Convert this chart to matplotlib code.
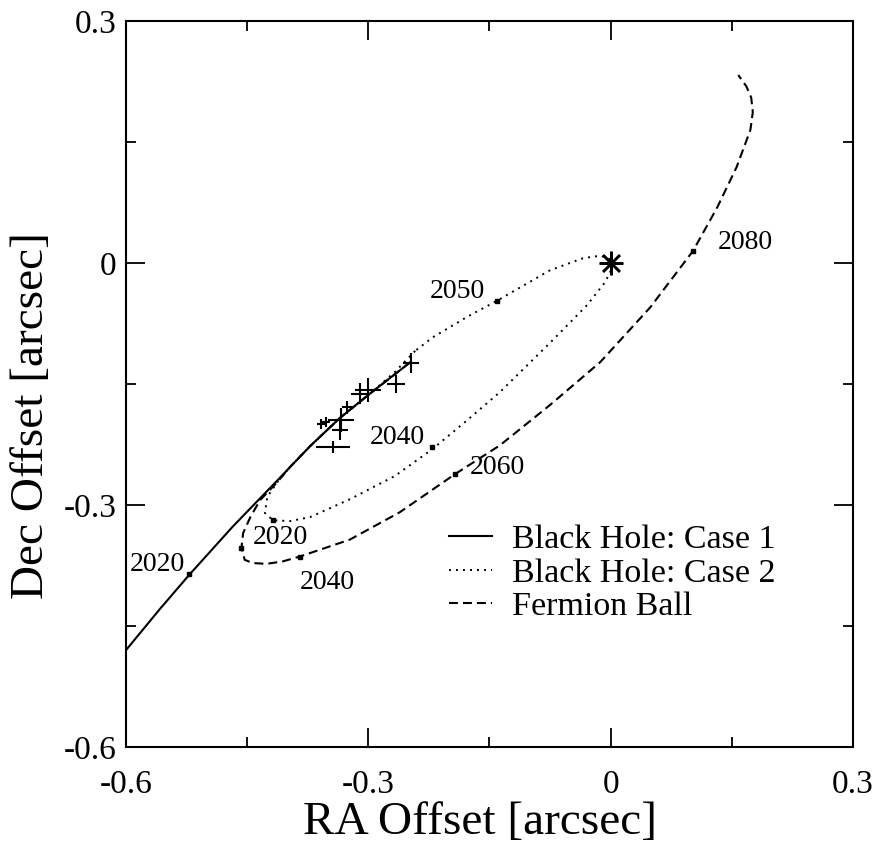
import matplotlib
matplotlib.use("Agg")
import matplotlib.pyplot as plt
from matplotlib.ticker import MultipleLocator, FuncFormatter

plt.rcParams["font.family"] = ["Liberation Serif", "DejaVu Serif"]
plt.rcParams["axes.unicode_minus"] = False

# Black Hole: Case 1 (solid)
case1_x = [-0.600, -0.558, -0.522, -0.468, -0.413, -0.372, -0.335, -0.298, -0.248]
case1_y = [-0.480, -0.429, -0.387, -0.327, -0.270, -0.227, -0.192, -0.162, -0.123]

# Black Hole: Case 2 (dotted, closed orbit)
case2_x = [-0.242, -0.267, -0.298, -0.335, -0.372, -0.397, -0.413, -0.425, -0.428, -0.418,
           -0.397, -0.372, -0.323, -0.267, -0.221, -0.180, -0.137, -0.075, -0.029, -0.007,
           0.002, -0.001, -0.013, -0.034, -0.075, -0.141, -0.178, -0.220, -0.242]
case2_y = [-0.109, -0.135, -0.162, -0.192, -0.227, -0.253, -0.272, -0.290, -0.310, -0.319,
           -0.320, -0.315, -0.293, -0.264, -0.231, -0.197, -0.160, -0.099, -0.052, -0.024,
           -0.006, 0.005, 0.009, 0.006, -0.009, -0.047, -0.067, -0.092, -0.109]

# Fermion Ball (dashed)
fermion_x = [-0.248, -0.298, -0.335, -0.372, -0.397, -0.413, -0.434, -0.446, -0.455, -0.457,
             -0.453, -0.443, -0.426, -0.406, -0.385, -0.323, -0.261, -0.193, -0.137, -0.075,
             -0.013, 0.049, 0.102, 0.132, 0.156, 0.173, 0.176, 0.174, 0.168, 0.158]
fermion_y = [-0.123, -0.162, -0.192, -0.227, -0.253, -0.272, -0.294, -0.315, -0.335, -0.353,
             -0.368, -0.372, -0.373, -0.370, -0.364, -0.343, -0.309, -0.262, -0.226, -0.176,
             -0.123, -0.055, 0.015, 0.069, 0.119, 0.165, 0.187, 0.205, 0.219, 0.233]

# observed positions with errors
obs_x = [-0.247, -0.266, -0.300, -0.310, -0.326, -0.334, -0.335, -0.344, -0.352, -0.359]
obs_y = [-0.124, -0.150, -0.157, -0.162, -0.179, -0.195, -0.207, -0.228, -0.197, -0.200]
obs_xerr = [0.010, 0.011, 0.016, 0.012, 0.006, 0.016, 0.010, 0.021, 0.005, 0.005]
obs_yerr = [0.012, 0.011, 0.015, 0.013, 0.008, 0.015, 0.012, 0.007, 0.006, 0.006]

# epoch markers and labels
epoch_x = [-0.522, -0.418, -0.221, -0.141, -0.457, -0.385, -0.193, 0.102]
epoch_y = [-0.386, -0.319, -0.228, -0.047, -0.353, -0.364, -0.262, 0.015]
label_text = ["2020", "2020", "2040", "2040", "2050", "2060", "2080"]
label_x = [-0.595, -0.443, -0.385, -0.298, -0.224, -0.174, 0.133]
label_y = [-0.374, -0.340, -0.396, -0.216, -0.035, -0.254, 0.025]

fig = plt.figure(figsize=(8.79, 8.57), dpi=100)
ax = fig.add_axes([0.1433, 0.1284, 0.8271, 0.8471])

ax.plot(case1_x, case1_y, color="black", lw=1.5, ls="-", label="Black Hole: Case 1")
ax.plot(case2_x, case2_y, color="black", lw=1.4, ls=(0, (1, 2.6)), label="Black Hole: Case 2")
ax.plot(fermion_x, fermion_y, color="black", lw=1.5, ls=(0, (4.3, 2.4)), label="Fermion Ball")
ax.errorbar(obs_x, obs_y, xerr=obs_xerr, yerr=obs_yerr, fmt="none", ecolor="black",
            elinewidth=1.5, capsize=0)
ax.plot(epoch_x, epoch_y, ls="none", marker="s", ms=3.5, color="black")
ax.plot([0], [0], ls="none", marker=(8, 2, 0), ms=17, mew=1.8, color="black")

for t, x, y in zip(label_text, label_x, label_y):
    ax.text(x, y, t, fontsize=20, ha="left", va="center")

ax.set_xlim(-0.6, 0.3)
ax.set_ylim(-0.6, 0.3)
ax.xaxis.set_major_locator(MultipleLocator(0.3))
ax.yaxis.set_major_locator(MultipleLocator(0.3))
ax.xaxis.set_minor_locator(MultipleLocator(0.15))
ax.yaxis.set_minor_locator(MultipleLocator(0.15))
fmt = FuncFormatter(lambda v, p: "0" if abs(v) < 1e-9 else f"{v:.1f}")
ax.xaxis.set_major_formatter(fmt)
ax.yaxis.set_major_formatter(fmt)
ax.tick_params(which="both", direction="in", top=True, right=True, width=1.3)
ax.tick_params(which="major", length=14, labelsize=24)
ax.tick_params(which="minor", length=7.5)
ax.tick_params(axis="x", which="major", pad=16)
ax.tick_params(axis="y", which="major", pad=7)
for s in ax.spines.values():
    s.set_linewidth(1.5)

ax.set_xlabel("RA Offset [arcsec]", fontsize=34)
ax.set_ylabel("Dec Offset [arcsec]", fontsize=34)
ax.xaxis.set_label_coords(0.487, -0.075)
ax.yaxis.set_label_coords(-0.100, 0.457)

ax.legend(loc="lower right", bbox_to_anchor=(0.893, 0.172), frameon=False, fontsize=24.5,
          handlelength=1.26, handletextpad=0.59, labelspacing=0.08, borderpad=0,
          borderaxespad=0)

fig.savefig("out.png", dpi=100)
